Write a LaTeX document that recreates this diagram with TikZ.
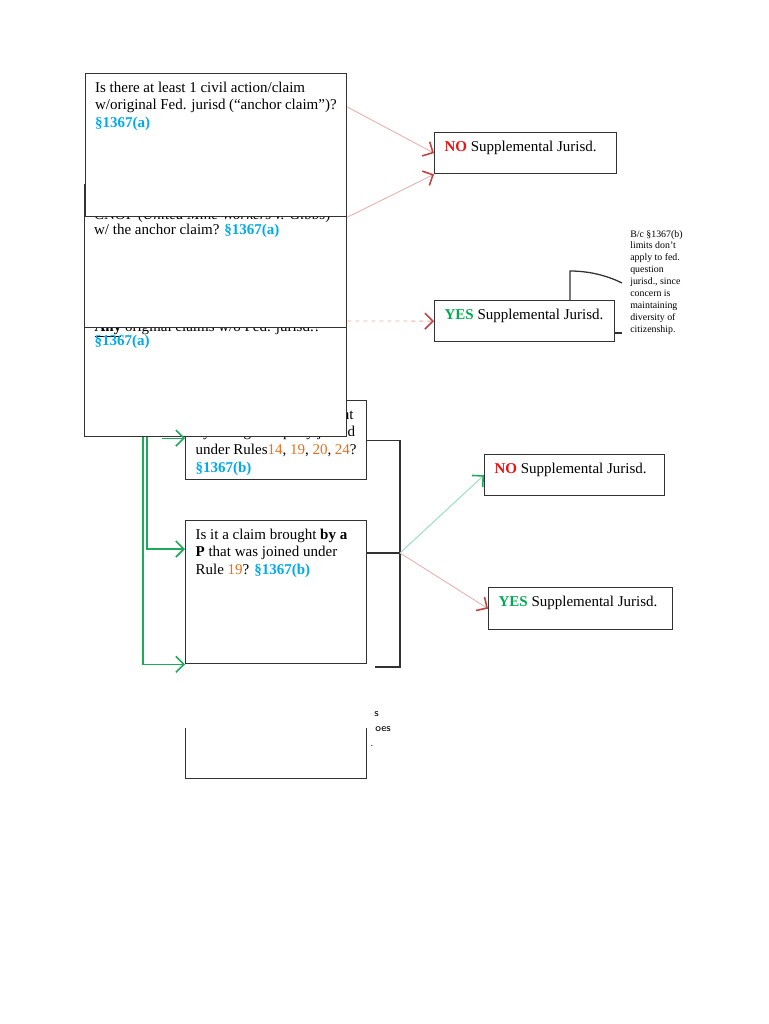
\documentclass[tikz,border=0pt]{standalone}
\usepackage{fontspec}
\setmainfont{Liberation Serif}
\usepackage{tikz}
\usetikzlibrary{arrows.meta,calc,positioning}

\definecolor{boxgray}{RGB}{50,50,50}
\definecolor{secblue}{RGB}{0,170,235}
\definecolor{ruleorange}{RGB}{228,112,30}
\definecolor{noRed}{RGB}{235,20,20}
\definecolor{yesGreen}{RGB}{0,170,80}
\definecolor{faintred}{RGB}{232,170,170}
\definecolor{tipred}{RGB}{190,70,70}
\definecolor{faintgreen}{RGB}{160,222,200}
\definecolor{edgegreen}{RGB}{30,170,90}

\newlength\pxu
\setlength\pxu{0.75pt}
% box text: width and height in px, text at the top
\newcommand{\qtext}[3]{\parbox[c][\dimexpr#2\pxu-12pt\relax][t]{\dimexpr#1\pxu-15pt\relax}{\raggedright\mbox{}#3}}
\newcommand{\statref}[1]{{\color{secblue}\textbf{§#1}}}
\newcommand{\rulenum}[1]{{\color{ruleorange}#1}}

\begin{document}
\begin{tikzpicture}[x=0.75pt,y=-0.75pt,
    question node/.style={draw=boxgray,line width=0.95pt,fill=white,anchor=north west,
      inner xsep=7.5pt,inner ysep=6pt,font=\fontsize{11.25}{13.3}\selectfont},
    answer node/.style={question node},
    note node/.style={anchor=north west,inner sep=0pt,align=left,font=\fontsize{7.4}{8.9}\selectfont},
    frag node/.style={anchor=base west,inner sep=0pt,font=\sffamily\fontsize{8}{9}\selectfont},
    line edge/.style={draw=boxgray,line width=0.95pt},
    red edge/.style={draw=faintred,line width=0.6pt,-{Straight Barb[length=6pt,width=12pt,line width=1.2pt,color=tipred]}},
    green edge/.style={draw=edgegreen,line width=0.8pt,-{Straight Barb[length=6pt,width=12pt,line width=1.2pt,color=edgegreen]}},
    pale edge/.style={green edge,draw=faintgreen}]

  \fill[white] (0,0) rectangle (768,1024);
  \useasboundingbox (0,0) rectangle (768,1024);

  % Define vertices
  \node[question node] (rules) at (185,400) {\qtext{181}{79}{Is it a claim being brought\\
    \mbox{by a P against party joined}\\
    under Rules\rulenum{14}, \rulenum{19}, \rulenum{20}, \rulenum{24}?\\ \statref{1367(b)}}};
  \node[question node] (orig) at (84,312) {\qtext{262}{124}{\underline{\textbf{Any}} original claims w/o Fed. jurisd.?\\[-2.2pt]
    \statref{1367(a)}}};
  \node[question node] (cnof) at (83.5,184) {\qtext{262.5}{143}{\rule{0pt}{20.3pt}CNOF (\textit{United Mine Workers v. Gibbs})\\[-2pt]
    w/ the anchor claim? \statref{1367(a)}}};
  \node[question node] (anchor) at (84.5,73) {\qtext{261.5}{143}{Is there at least 1 civil action/claim\\
    w/original Fed. jurisd (“anchor claim”)?\\ \statref{1367(a)}}};

  \node[question node] (joinp) at (185,520) {\qtext{181}{143}{Is it a claim brought \textbf{by a}\\
    \textbf{P} that was joined under\\ Rule \rulenum{19}? \statref{1367(b)}}};
  \node[question node] (lastq) at (185,680) {\qtext{181}{98}{}};
  \fill[white] (180,668) rectangle (372,727.5);
  \node[frag node] (frag s) at (374,716) {s};
  \node[frag node] (frag oes) at (375,731) {oes};
  \node[frag node] (frag dot) at (370,746) {.};

  \node[answer node] (no1) at (434,132) {\qtext{182}{41}{{\color{noRed}\textbf{NO}} Supplemental Jurisd.}};
  \node[answer node] (yes1) at (434,300) {\qtext{180}{41}{{\color{yesGreen}\textbf{YES}} Supplemental Jurisd.}};
  \node[answer node] (no2) at (484,454) {\qtext{180}{41}{{\color{noRed}\textbf{NO}} Supplemental Jurisd.}};
  \node[answer node] (yes2) at (488,587) {\qtext{184}{42}{{\color{yesGreen}\textbf{YES}} Supplemental Jurisd.}};

  \node[note node] (bcnote) at (630,230) {B/c §1367(b)\\ limits don’t\\ apply to fed.\\ question\\
    jurisd., since\\ concern is\\ maintaining\\ diversity of\\ citizenship.};

  \coordinate (split) at (400,553);
  \coordinate (brk end) at (375,667);
  \coordinate (note top) at (622,283);
  \coordinate (note low) at (622,333);

  % Draw edges
  \draw[red edge] ($(anchor.north east)+(0,34)$) -- (no1.west);
  \draw[red edge] (anchor.south east) -- (no1.south west);
  \draw[red edge,dashed] ($(orig.north east)+(0,9)$) -- (yes1.west);

  \draw[green edge] ($(rules.west)+(-23,-2)$) -- ($(rules.west)+(0,-2)$);
  \draw[green edge] ($(orig.south west)+(63,0)$) |- ($(joinp.north west)+(0,29)$);
  \draw[green edge] ($(orig.south west)+(59,0)$) |- (joinp.south west);

  \draw[line edge] (rules.east) -| (split) |- (brk end);
  \draw[line edge] (joinp.east |- split) -- (split);
  \draw[pale edge] (split) -- (no2.west);
  \draw[red edge] (split) -- (yes2.west);

  \draw[line edge] ($(yes1.north west)+(136,0)$) -- ++(0,-29) .. controls +(22,0) and +(-12,-6) .. (note top);
  \draw[line edge] (yes1.east |- note low) -- (note low);

\end{tikzpicture}
\end{document}
